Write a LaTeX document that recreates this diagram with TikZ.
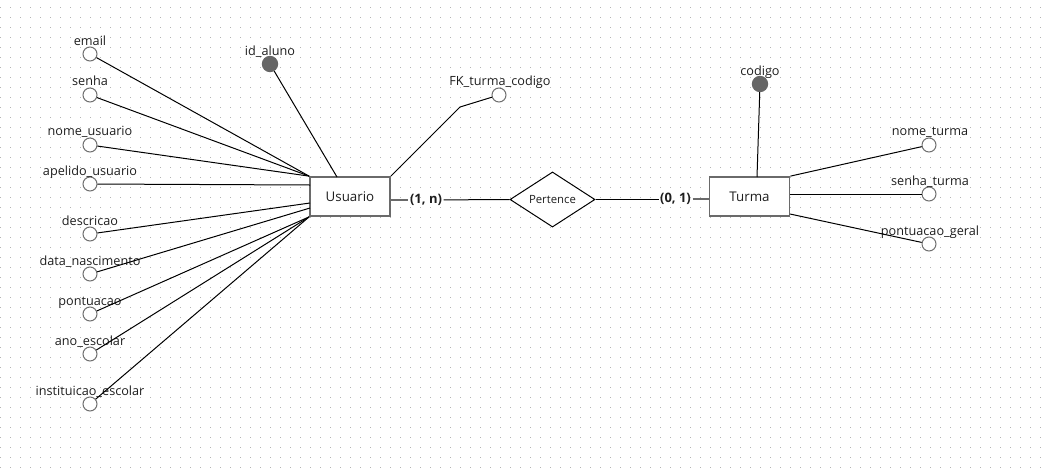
\documentclass[tikz,border=0pt]{standalone}
\usepackage{fontspec}
\setmainfont{Open Sans}
\usetikzlibrary{shapes.geometric}
\definecolor{attrgray}{HTML}{707070}
\definecolor{keygray}{HTML}{666666}
\definecolor{entgray}{HTML}{6A6A6A}
\definecolor{dotgray}{HTML}{B4B4B4}
\definecolor{txt}{HTML}{1E1E1E}
\begin{document}
\begin{tikzpicture}[x=0.75pt,y=-0.75pt,
  attr/.style={circle,draw=attrgray,fill=white,line width=0.75pt,minimum size=10.5pt,inner sep=0pt},
  keyattr/.style={circle,draw=keygray,fill=keygray,line width=0.75pt,minimum size=11.5pt,inner sep=0pt},
  atext/.style={anchor=base,inner sep=0pt,font=\fontsize{9.5}{11}\selectfont,text=txt},
  ent/.style={rectangle,draw=entgray,line width=1.3pt,fill=white,minimum width=60pt,minimum height=29.25pt,inner sep=0pt,font=\fontsize{10}{12}\selectfont,text=txt},
  rel/.style={diamond,draw=black,line width=0.75pt,fill=white,minimum width=63.75pt,minimum height=33.75pt,inner sep=0pt,font=\fontsize{8.5}{10}\selectfont,text=txt},
  conn/.style={draw=black,line width=0.75pt},
  gconn/.style={draw=entgray,line width=1.3pt},
  card/.style={inner sep=1pt,font=\bfseries\fontsize{9.75}{11}\selectfont,text=txt}
]
\useasboundingbox (0,0) rectangle (1046,468);
\fill[white] (0,0) rectangle (1046,468);
% dot grid
\foreach \i in {0,...,104}{
  \foreach \j in {0,...,46}{
    \fill[dotgray] (10*\i,10*\j+6.5) rectangle ++(1,1);
  }
}
% entities and relationship
\node[ent] (usuario) at (350,196.5) {Usuario};
\node[ent] (turma) at (749.5,196.5) {Turma};
\node[rel] (pertence) at (552.5,199.5) {Pertence};
\node[card] (c1n) at (426,200) {(1, n)};
\node[card] (c01) at (675.5,199) {(0, 1)};
% attributes of Usuario
\node[attr] (email) at (90,54) {};
\node[atext] at (90,45) {email};
\node[attr] (senha) at (90,95) {};
\node[atext] at (90,85) {senha};
\node[attr] (nome) at (90,145) {};
\node[atext] at (90,135) {nome\_usuario};
\node[attr] (apelido) at (90,184) {};
\node[atext] at (90,175) {apelido\_usuario};
\node[attr] (descricao) at (90,234) {};
\node[atext] at (90,225) {descricao};
\node[attr] (data) at (90,274) {};
\node[atext] at (90,265) {data\_nascimento};
\node[attr] (pontuacao) at (90,314) {};
\node[atext] at (90,305) {pontuacao};
\node[attr] (ano) at (90,354) {};
\node[atext] at (90,345) {ano\_escolar};
\node[attr] (inst) at (90,404) {};
\node[atext] at (90,395) {instituicao\_escolar};
\node[keyattr] (idaluno) at (270,64) {};
\node[atext] at (270,55) {id\_aluno};
\node[attr] (fk) at (499,95) {};
\node[atext] at (500,85) {FK\_turma\_codigo};
% attributes of Turma
\node[keyattr] (codigo) at (760,84) {};
\node[atext] at (760,75) {codigo};
\node[attr] (nometurma) at (929,145) {};
\node[atext] at (930,135) {nome\_turma};
\node[attr] (senhaturma) at (929,194) {};
\node[atext] at (930,185) {senha\_turma};
\node[attr] (pontgeral) at (929,244) {};
\node[atext] at (930,235) {pontuacao\_geral};
% connection points
\coordinate (uA) at (310,185);
\coordinate (uD) at (310,203);
\coordinate (uE) at (310,208);
\coordinate (uid) at (337,177);
\coordinate (fkbend) at (460,107);
\coordinate (tcod) at (757,177);
\coordinate (tS) at (790,194);
\coordinate (tP) at (790,214);
% connectors Usuario
\draw[conn] (email) -- (usuario.north west);
\draw[conn] (senha) -- (usuario.north west);
\draw[conn] (nome) -- (usuario.north west);
\draw[conn] (apelido) -- (uA);
\draw[conn] (descricao) -- (uD);
\draw[conn] (data) -- (uE);
\draw[conn] (pontuacao) -- (usuario.south west);
\draw[conn] (ano) -- (usuario.south west);
\draw[conn] (inst) -- (usuario.south west);
\draw[conn] (idaluno) -- (uid);
\draw[conn] (usuario.north east) -- (fkbend) -- (fk);
% connectors Turma
\draw[conn] (codigo) -- (tcod);
\draw[conn] (turma.north east) -- (nometurma);
\draw[conn] (tS) -- (senhaturma);
\draw[conn] (tP) -- (pontgeral);
% relationship
\draw[gconn] (usuario.east |- c1n) -- (c1n);
\draw[conn] (c1n) -- (pertence.west);
\draw[conn] (pertence.east) -- (c01.west |- pertence.east);
\draw[gconn] (c01) -- (turma.west |- c01);
\end{tikzpicture}
\end{document}
